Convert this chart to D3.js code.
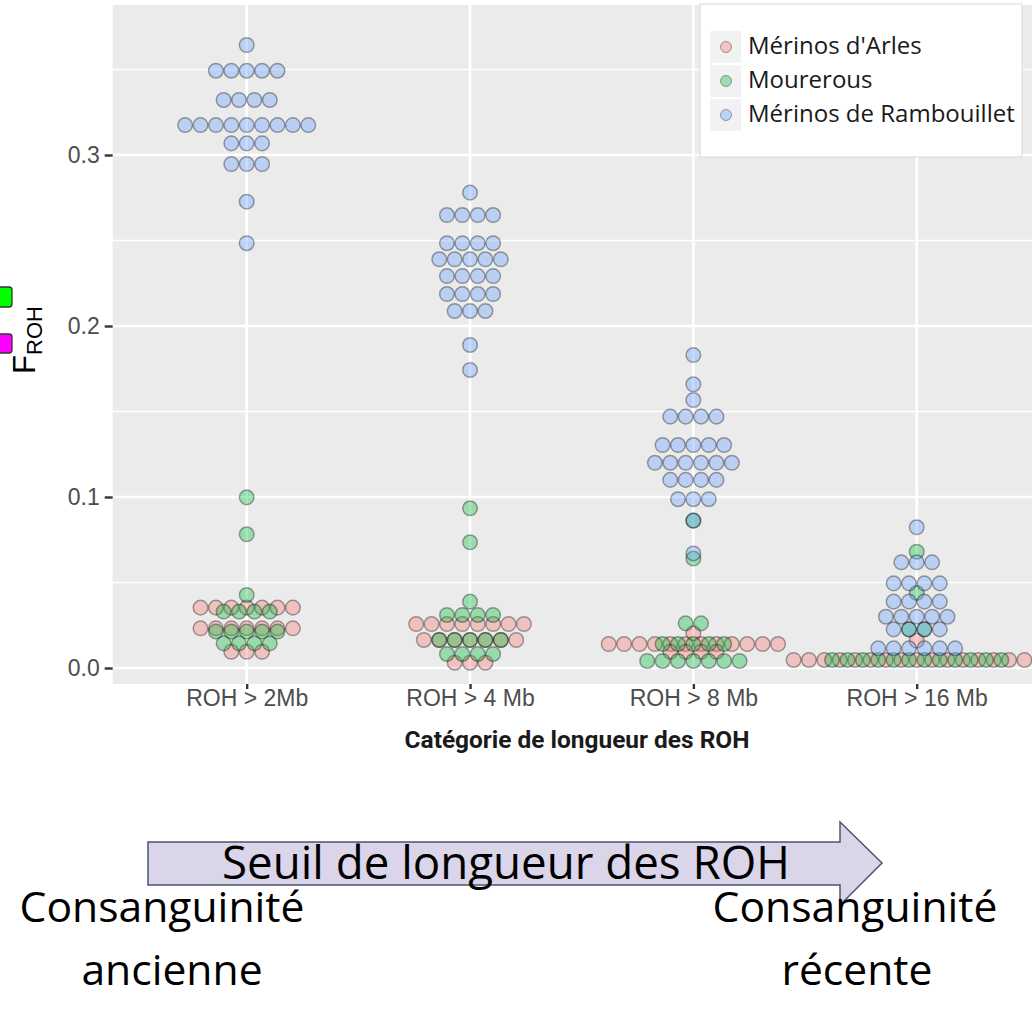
<!DOCTYPE html>
<html>
<head>
<meta charset="utf-8">
<script src="https://cdn.jsdelivr.net/npm/d3@7"></script>
<style>
  body { margin: 0; background: #ffffff; }
  svg { display: block; }
</style>
</head>
<body>
<svg id="chart" width="1032" height="1011"></svg>
<script>
// ---- data -----------------------------------------------------------------
const categories = ["ROH > 2Mb", "ROH > 4 Mb", "ROH > 8 Mb", "ROH > 16 Mb"];
const breeds = ["Mérinos d'Arles", "Mourerous", "Mérinos de Rambouillet"];
const breedColors = ["#F8766D", "#00BA38", "#619CFF"];
const yTickValues = [0, 0.1, 0.2, 0.3];
const yMinorValues = [0.05, 0.15, 0.25, 0.35];

// Dot-plot bins per category: [F_ROH bin centre, number of animals]
const arlesBins = [
  [[0.0353, 7], [0.0232, 7], [0.0095, 3]],
  [[0.0257, 8], [0.0164, 7], [0.0031, 3]],
  [[0.0203, 1], [0.0140, 12], [0.0095, 4]],
  [[0.0160, 1], [0.0047, 17]]
];
const mourerousBins = [
  [[0.0998, 1], [0.0782, 1], [0.0427, 1], [0.0330, 4], [0.0213, 5], [0.0144, 4]],
  [[0.0934, 1], [0.0735, 1], [0.0388, 1], [0.0310, 4], [0.0164, 5], [0.0082, 4]],
  [[0.0862, 1], [0.0640, 1], [0.0261, 2], [0.0140, 5], [0.0041, 7]],
  [[0.0680, 1], [0.0439, 1], [0.0226, 2], [0.0047, 12]]
];
const rambouilletBins = [
  [[0.3643, 1], [0.3493, 5], [0.3322, 4], [0.3175, 9], [0.3068, 3], [0.2947, 3], [0.2727, 1], [0.2484, 1]],
  [[0.2780, 1], [0.2649, 4], [0.2484, 4], [0.2390, 5], [0.2292, 4], [0.2187, 4], [0.2088, 3], [0.1889, 1], [0.1743, 1]],
  [[0.1830, 1], [0.1659, 1], [0.1567, 1], [0.1470, 4], [0.1304, 5], [0.1200, 6], [0.1100, 4], [0.0987, 3], [0.0862, 1], [0.0670, 1]],
  [[0.0823, 1], [0.0618, 3], [0.0495, 4], [0.0388, 4], [0.0300, 5], [0.0226, 4], [0.0115, 6]]
];
const binWidth = 0.009;

// ---- layout ---------------------------------------------------------------
const svg = d3.select("#chart");
const panel = { left: 112.7, right: 1050.7, top: 5, bottom: 684 };

const x = d3.scalePoint()
  .domain(categories)
  .range([panel.left, panel.right])
  .padding(0.6);

const y = d3.scaleLinear()
  .domain([-0.00936, 0.38772])
  .range([panel.bottom, panel.top]);

const dotD = y(0) - y(binWidth);   // dot diameter in pixels
const alpha = 0.35;

// panel background + grid
svg.append("rect")
  .attr("x", panel.left).attr("y", panel.top)
  .attr("width", panel.right - panel.left).attr("height", panel.bottom - panel.top)
  .attr("fill", "#EBEBEB");

const grid = svg.append("g");
grid.selectAll("line.minor").data(yMinorValues).join("line")
  .attr("x1", panel.left).attr("x2", panel.right)
  .attr("y1", d => y(d)).attr("y2", d => y(d))
  .attr("stroke", "#ffffff").attr("stroke-width", 1.3);
grid.selectAll("line.major").data(yTickValues).join("line")
  .attr("x1", panel.left).attr("x2", panel.right)
  .attr("y1", d => y(d)).attr("y2", d => y(d))
  .attr("stroke", "#ffffff").attr("stroke-width", 2.6);
grid.selectAll("line.vmajor").data(categories).join("line")
  .attr("x1", d => x(d)).attr("x2", d => x(d))
  .attr("y1", panel.top).attr("y2", panel.bottom)
  .attr("stroke", "#ffffff").attr("stroke-width", 2.6);

// dots: every bin is stacked sideways about the category centre
const allBins = [arlesBins, mourerousBins, rambouilletBins];
const dots = [];
allBins.forEach((perCat, b) => {
  perCat.forEach((bins, c) => {
    bins.forEach(([v, n]) => {
      for (let i = 0; i < n; i++) {
        dots.push({ breed: b, cat: categories[c], value: v, offset: i - (n - 1) / 2 });
      }
    });
  });
});

svg.append("clipPath").attr("id", "panelClip")
  .append("rect")
  .attr("x", panel.left).attr("y", panel.top)
  .attr("width", panel.right - panel.left).attr("height", panel.bottom - panel.top);

svg.append("g").attr("clip-path", "url(#panelClip)")
  .selectAll("circle").data(dots).join("circle")
  .attr("cx", d => x(d.cat) + d.offset * dotD)
  .attr("cy", d => y(d.value))
  .attr("r", dotD / 2 - 0.4)
  .attr("fill", d => breedColors[d.breed])
  .attr("fill-opacity", alpha)
  .attr("stroke", "#000000")
  .attr("stroke-opacity", alpha)
  .attr("stroke-width", 1.5);

// axes
const axisFont = "'Liberation Sans', Arial, sans-serif";
const yAxis = svg.append("g").attr("transform", `translate(${panel.left},0)`)
  .call(d3.axisLeft(y).tickValues(yTickValues).tickFormat(d3.format(".1f")).tickSize(8).tickPadding(5));
const xAxis = svg.append("g").attr("transform", `translate(0,${panel.bottom})`)
  .call(d3.axisBottom(x).tickSize(5).tickPadding(5));
[yAxis, xAxis].forEach(a => {
  a.select(".domain").remove();
  a.selectAll(".tick line").attr("stroke", "#333333").attr("stroke-width", 2.4);
  a.selectAll(".tick text").attr("fill", "#4D4D4D")
    .style("font-family", axisFont).style("font-size", "23px");
});
xAxis.selectAll(".tick text").attr("y", 22).attr("dy", 0);

// y title: F with subscript ROH, rotated
const yTitle = svg.append("text")
  .attr("transform", "translate(35,340) rotate(-90)")
  .attr("text-anchor", "middle")
  .style("font-family", axisFont)
  .attr("fill", "#000000");
yTitle.append("tspan").style("font-size", "31px").text("F");
yTitle.append("tspan").style("font-size", "22px").attr("dy", 7).text("ROH");

// x title
const uiFont = "'Open Sans', 'Noto Sans', sans-serif";
function fitText(sel, width) {
  const w = sel.node().getComputedTextLength();
  const fs = parseFloat(sel.style("font-size"));
  sel.style("font-size", (fs * width / w) + "px");
  return fs * width / w;
}
const xTitle = svg.append("text")
  .attr("x", 577).attr("y", 748)
  .attr("text-anchor", "middle")
  .style("font-family", "Roboto, 'Open Sans', sans-serif").style("font-weight", "bold").style("font-size", "20px")
  .attr("fill", "#1a1a1a")
  .text("Catégorie de longueur des ROH");
fitText(xTitle, 345);

// legend
const legend = svg.append("g");
legend.append("rect")
  .attr("x", 700).attr("y", 4).attr("width", 322).attr("height", 153)
  .attr("fill", "#ffffff").attr("stroke", "#DADADA").attr("stroke-width", 1);
const legRows = legend.selectAll("g.row").data(breeds).join("g")
  .attr("transform", (d, i) => `translate(710,${31 + i * 34})`);
legRows.append("rect").attr("width", 31).attr("height", 32).attr("fill", "#F2F2F2");
legRows.append("circle").attr("cx", 16).attr("cy", 16).attr("r", 5.5)
  .attr("fill", (d, i) => breedColors[i]).attr("fill-opacity", alpha)
  .attr("stroke", "#000").attr("stroke-opacity", alpha).attr("stroke-width", 1);
const legText = legRows.append("text")
  .attr("x", 38).attr("y", 23)
  .style("font-family", uiFont).style("font-size", "19px")
  .attr("fill", "#1a1a1a")
  .text(d => d);
{
  const longest = legText.filter((d, i) => i === 2);
  const fs = fitText(longest, 267);
  legText.style("font-size", fs + "px");
}

// markers at the left margin
svg.append("rect").attr("x", -4).attr("y", 287).attr("width", 16).attr("height", 20).attr("rx", 3)
  .attr("fill", "#00FF00").attr("stroke", "#333333").attr("stroke-width", 1.3);
svg.append("rect").attr("x", -4).attr("y", 334).attr("width", 16).attr("height", 19).attr("rx", 3)
  .attr("fill", "#FF00FF").attr("stroke", "#333333").attr("stroke-width", 1.3);

// arrow along the threshold axis
const arrowPts = [[148, 842], [840, 842], [840, 822], [882, 863], [840, 905], [840, 885], [148, 885]];
svg.append("path")
  .attr("d", d3.line()(arrowPts) + "Z")
  .attr("fill", "#DAD5E9").attr("stroke", "#4A5670").attr("stroke-width", 1.5);

const arrowText = svg.append("text")
  .attr("x", 506).attr("y", 879).attr("text-anchor", "middle")
  .style("font-family", uiFont).style("font-size", "36px").attr("fill", "#000")
  .text("Seuil de longueur des ROH");
fitText(arrowText, 568);

const endTexts = [
  { x: 162, y: 922, t: "Consanguinité" },
  { x: 172, y: 985, t: "ancienne" },
  { x: 855, y: 922, t: "Consanguinité" },
  { x: 857, y: 985, t: "récente" }
];
const endSel = svg.selectAll("text.end").data(endTexts).join("text")
  .attr("class", "end")
  .attr("x", d => d.x).attr("y", d => d.y).attr("text-anchor", "middle")
  .style("font-family", uiFont).style("font-size", "38px").attr("fill", "#000")
  .text(d => d.t);
{
  const fs = fitText(endSel.filter((d, i) => i === 0), 285);
  endSel.style("font-size", fs + "px");
}
</script>
</body>
</html>
